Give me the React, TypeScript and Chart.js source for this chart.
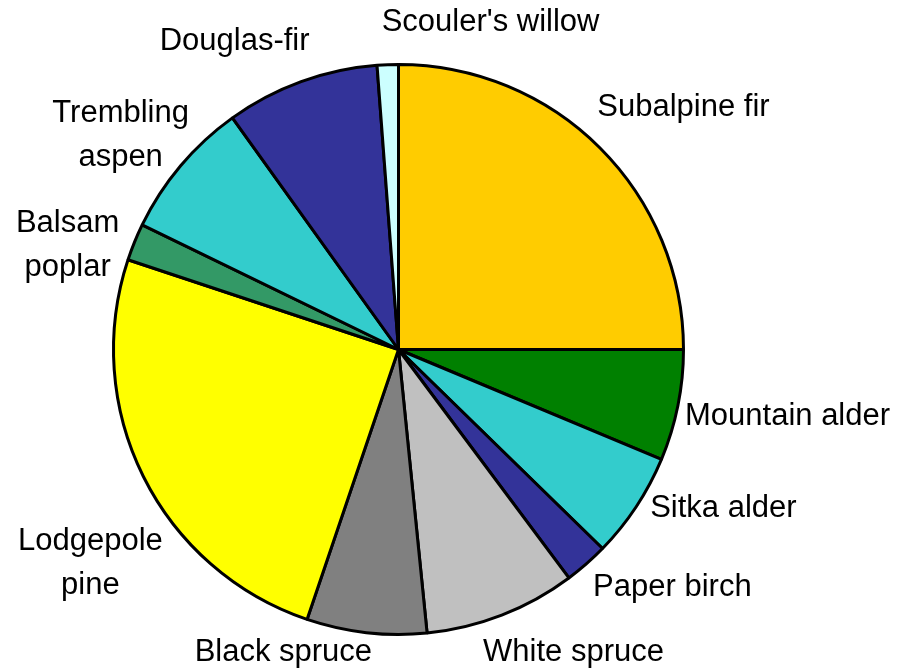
import React, { useEffect, useRef } from "react";
import { Chart, registerables } from "chart.js";

Chart.register(...registerables);

const species: string[] = [
  "Subalpine fir",
  "Mountain alder",
  "Sitka alder",
  "Paper birch",
  "White spruce",
  "Black spruce",
  "Lodgepole pine",
  "Balsam poplar",
  "Trembling aspen",
  "Douglas-fir",
  "Scouler's willow",
];

const shares: number[] = [25.0, 6.3, 6.0, 2.5, 8.6, 6.8, 24.9, 2.1, 7.9, 8.7, 1.2];

const sliceColors: string[] = [
  "#FFCC00",
  "#008000",
  "#33CCCC",
  "#333399",
  "#C0C0C0",
  "#808080",
  "#FFFF00",
  "#339966",
  "#33CCCC",
  "#333399",
  "#CCFFFF",
];

// label text lines (multi-line labels)
const labelLines: string[][] = [
  ["Subalpine fir"],
  ["Mountain alder"],
  ["Sitka alder"],
  ["Paper birch"],
  ["White spruce"],
  ["Black spruce"],
  ["Lodgepole", "pine"],
  ["Balsam", "poplar"],
  ["Trembling", "aspen"],
  ["Douglas-fir"],
  ["Scouler's willow"],
];

// layout: label centre offsets from pie centre, in units of the radius
const labelOffsets: [number, number][] = [
  [1.0, -0.849],
  [1.365, 0.235],
  [1.14, 0.558],
  [0.961, 0.835],
  [0.614, 1.063],
  [-0.404, 1.063],
  [-1.081, 0.751],
  [-1.161, -0.365],
  [-0.975, -0.751],
  [-0.575, -1.081],
  [0.323, -1.147],
];

const FONT = "31px 'Liberation Sans', Arial, sans-serif";
const LINE_H = 44;

const labelPlugin = {
  id: "outsideLabels",
  afterDraw(chart: any) {
    const meta = chart.getDatasetMeta(0);
    if (!meta || !meta.data.length) return;
    const arc = meta.data[0];
    const cx = arc.x;
    const cy = arc.y;
    const r = arc.outerRadius;
    const ctx = chart.ctx;
    ctx.save();
    ctx.font = FONT;
    ctx.fillStyle = "#000000";
    ctx.textAlign = "center";
    ctx.textBaseline = "middle";
    labelLines.forEach((lines, i) => {
      const [ox, oy] = labelOffsets[i];
      const x = cx + ox * r;
      const y = cy + oy * r;
      const n = lines.length;
      lines.forEach((ln, j) => {
        ctx.fillText(ln, x, y + (j - (n - 1) / 2) * LINE_H);
      });
    });
    ctx.restore();
  },
};

export default function App() {
  const canvasRef = useRef<HTMLCanvasElement | null>(null);

  useEffect(() => {
    if (!canvasRef.current) return;
    const chart = new Chart(canvasRef.current, {
      type: "pie",
      data: {
        labels: species,
        datasets: [
          {
            data: shares,
            backgroundColor: sliceColors,
            borderColor: "#000000",
            borderWidth: 3,
            borderAlign: "center",
          },
        ],
      },
      options: {
        animation: false,
        responsive: true,
        maintainAspectRatio: false,
        layout: { padding: { left: 112, right: 212, top: 63, bottom: 35 } },
        plugins: {
          legend: { display: false },
          tooltip: { enabled: false },
        },
      },
      plugins: [labelPlugin],
    });
    return () => chart.destroy();
  }, []);

  return (
    <div
      style={{
        position: "fixed",
        left: 0,
        top: 0,
        width: 897,
        height: 671,
        background: "#ffffff",
      }}
    >
      <canvas ref={canvasRef} />
    </div>
  );
}
